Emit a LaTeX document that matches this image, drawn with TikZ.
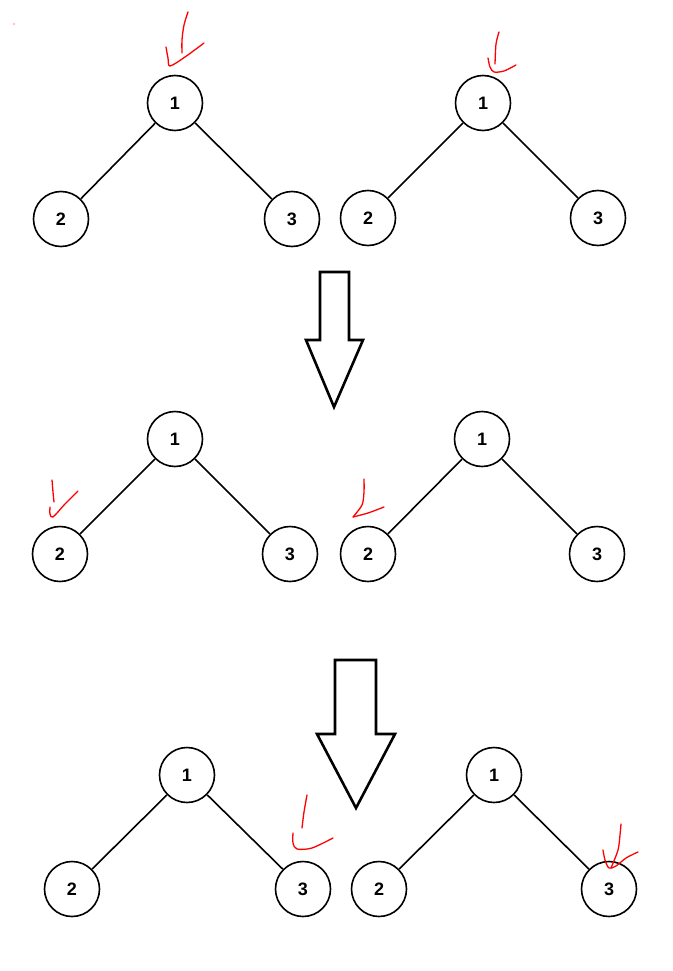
\documentclass[tikz,border=0pt]{standalone}
\usepackage{fontspec}
\setmainfont{Liberation Sans}
\begin{document}
\begin{tikzpicture}[x=1pt,y=-1pt,
  tnode/.style={circle,draw=black,line width=1.6pt,minimum size=55pt,inner sep=0pt,font=\fontsize{18}{18}\selectfont\bfseries},
  tedge/.style={line width=1.6pt,black},
  bigarrow/.style={draw=black,line width=2.6pt,fill=white,line join=miter},
  redmark/.style={red,line width=1.3pt,line cap=round,line join=round}]
\useasboundingbox[fill=white] (0,0) rectangle (672,971);
% row 1
\node[tnode] (a1) at (175,103) {1};
\node[tnode] (a2) at (61,219) {2};
\node[tnode] (a3) at (292,219) {3};
\node[tnode] (b1) at (483,103) {1};
\node[tnode] (b2) at (368,218) {2};
\node[tnode] (b3) at (598,218) {3};
\draw[tedge] (a1) -- (a2); \draw[tedge] (a1) -- (a3);
\draw[tedge] (b1) -- (b2); \draw[tedge] (b1) -- (b3);
% arrow 1
\draw[bigarrow] (320,272) -- (349,272) -- (349,340) -- (363,340) -- (334,407) -- (306,340) -- (320,340) -- cycle;
% row 2
\node[tnode] (c1) at (175,439) {1};
\node[tnode] (c2) at (60,554) {2};
\node[tnode] (c3) at (290,554) {3};
\node[tnode] (d1) at (482,439) {1};
\node[tnode] (d2) at (368,554) {2};
\node[tnode] (d3) at (597,554) {3};
\draw[tedge] (c1) -- (c2); \draw[tedge] (c1) -- (c3);
\draw[tedge] (d1) -- (d2); \draw[tedge] (d1) -- (d3);
% arrow 2
\draw[bigarrow] (335,660) -- (376,660) -- (376,734) -- (395,734) -- (356,808) -- (317,734) -- (335,734) -- cycle;
% row 3
\node[tnode] (e1) at (187,775) {1};
\node[tnode] (e2) at (72,889) {2};
\node[tnode] (e3) at (303,889) {3};
\node[tnode] (f1) at (494,775) {1};
\node[tnode] (f2) at (379,889) {2};
\node[tnode] (f3) at (609,889) {3};
\draw[tedge] (e1) -- (e2); \draw[tedge] (e1) -- (e3);
\draw[tedge] (f1) -- (f2); \draw[tedge] (f1) -- (f3);
% red hand-drawn marks
\fill[red] (14,24) circle (0.7);
\draw[redmark] plot[smooth] coordinates {(188,12) (184,25) (182,40) (182,53)};
\draw[redmark] plot[smooth] coordinates {(166,47) (168,58) (170,66) (185,57) (204,43)};
\draw[redmark] plot[smooth] coordinates {(499,32) (496,44) (495,64)};
\draw[redmark] plot[smooth] coordinates {(488,58) (490,67) (494,72) (504,71) (516,65)};
\draw[redmark] plot[smooth] coordinates {(52,480) (53,492) (54,502)};
\draw[redmark] plot[smooth] coordinates {(50,507) (50,514) (53,517) (65,504) (78,491)};
\draw[redmark] plot[smooth] coordinates {(364,479) (364,492) (362,505) (353,517)};
\draw[redmark] plot[smooth] coordinates {(353,517) (368,513) (384,507)};
\draw[redmark] plot[smooth] coordinates {(307,795) (304,812) (302,828)};
\draw[redmark] plot[smooth] coordinates {(293,833) (293,843) (297,849) (312,848) (333,838)};
\draw[redmark] plot[smooth] coordinates {(621,824) (620,835) (618,850) (611,868)};
\draw[redmark] plot[smooth] coordinates {(603,850) (605,860) (609,868) (616,866) (626,858) (638,852)};
\end{tikzpicture}
\end{document}
